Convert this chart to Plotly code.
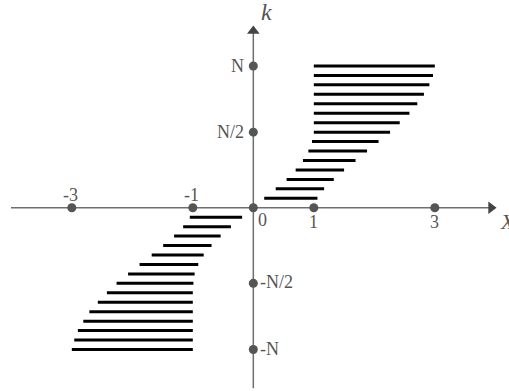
import plotly.graph_objects as go

# ---- data ----
k_upper = list(range(1, 16))
x_upper_start = [0.18, 0.37, 0.55, 0.70, 0.82, 0.91, 0.97, 1.0, 1.0, 1.0, 1.0, 1.0, 1.0, 1.0, 1.0]
x_upper_end = [1.06, 1.17, 1.33, 1.50, 1.69, 1.88, 2.07, 2.26, 2.42, 2.58, 2.71, 2.82, 2.91, 2.97, 3.0]

k_lower = [-k for k in range(1, 16)]
x_lower_start = [-1.05, -1.16, -1.31, -1.49, -1.68, -1.88, -2.07, -2.26, -2.42, -2.57, -2.71, -2.81, -2.90, -2.96, -3.0]
x_lower_end = [-0.185, -0.37, -0.54, -0.69, -0.82, -0.91, -0.97, -0.99, -1.0, -1.0, -1.0, -1.0, -1.0, -1.0, -1.0]

x_ticks = [-3, -1, 0, 1, 3]
x_tick_labels = ["-3", "-1", "0", "1", "3"]
y_ticks = [15, 8, -8, -15]
y_tick_labels = ["N", "N/2", "-N/2", "-N"]

# ---- styling ----
AX = "#6e6e6e"
DOT = "#555555"
TXT = "#555555"
FONT = "Liberation Serif"

fig = go.Figure()

# axis lines
fig.add_shape(type="line", x0=-4.005, x1=3.95, y0=0, y1=0, line=dict(color=AX, width=1.5), layer="below")
fig.add_shape(type="line", x0=0, x1=0, y0=-19.1, y1=18.9, line=dict(color=AX, width=1.5), layer="below")

# arrow heads
fig.add_trace(go.Scatter(x=[3.93], y=[0], mode="markers",
                         marker=dict(symbol="triangle-right", size=11, color="#444444"),
                         hoverinfo="skip", showlegend=False))
fig.add_trace(go.Scatter(x=[0], y=[18.7], mode="markers",
                         marker=dict(symbol="triangle-up", size=11, color="#444444"),
                         hoverinfo="skip", showlegend=False))

# segments
sx, sy = [], []
for a, b, k in zip(x_upper_start, x_upper_end, k_upper):
    sx += [a, b, None]
    sy += [k, k, None]
for a, b, k in zip(x_lower_start, x_lower_end, k_lower):
    sx += [a, b, None]
    sy += [k, k, None]
fig.add_trace(go.Scatter(x=sx, y=sy, mode="lines", line=dict(color="black", width=3),
                         hoverinfo="skip", showlegend=False))

# tick dots
fig.add_trace(go.Scatter(x=x_ticks + [0] * len(y_ticks), y=[0] * len(x_ticks) + y_ticks,
                         mode="markers", marker=dict(size=9, color=DOT),
                         hoverinfo="skip", showlegend=False))

# tick labels
xl_shift = {"-3": (-1, 13), "-1": (-1, 13), "0": (9, -12), "1": (0, -14), "3": (0, -14)}
for v, t in zip(x_ticks, x_tick_labels):
    dx, dy = xl_shift[t]
    fig.add_annotation(x=v, y=0, text=t, showarrow=False, xshift=dx, yshift=dy,
                       font=dict(family=FONT, size=18, color=TXT))
for v, t in zip(y_ticks, y_tick_labels):
    if v > 0:
        fig.add_annotation(x=0, y=v, text=t, showarrow=False, xanchor="right", xshift=-7, yshift=0,
                           font=dict(family=FONT, size=18, color=TXT))
    else:
        fig.add_annotation(x=0, y=v, text=t, showarrow=False, xanchor="left", xshift=5, yshift=1,
                           font=dict(family=FONT, size=18, color=TXT))

# axis titles
fig.add_annotation(x=0, y=20.7, text="<i>k</i>", showarrow=False, xshift=13,
                   font=dict(family=FONT, size=24, color=TXT))
fig.add_annotation(x=3.93, y=0, text="<i>X</i>", showarrow=False, xanchor="left", xshift=7, yshift=-14,
                   font=dict(family=FONT, size=22, color=TXT))

fig.update_layout(
    width=509, height=391,
    margin=dict(l=0, r=0, t=0, b=0),
    paper_bgcolor="white", plot_bgcolor="white",
    xaxis=dict(range=[-4.187, 4.226], visible=False, fixedrange=True),
    yaxis=dict(range=[-19.39, 21.98], visible=False, fixedrange=True),
    showlegend=False,
)

fig.write_html("out.html", config={"displayModeBar": False},
               post_script="document.body.style.margin='0';document.body.style.overflow='hidden';")
